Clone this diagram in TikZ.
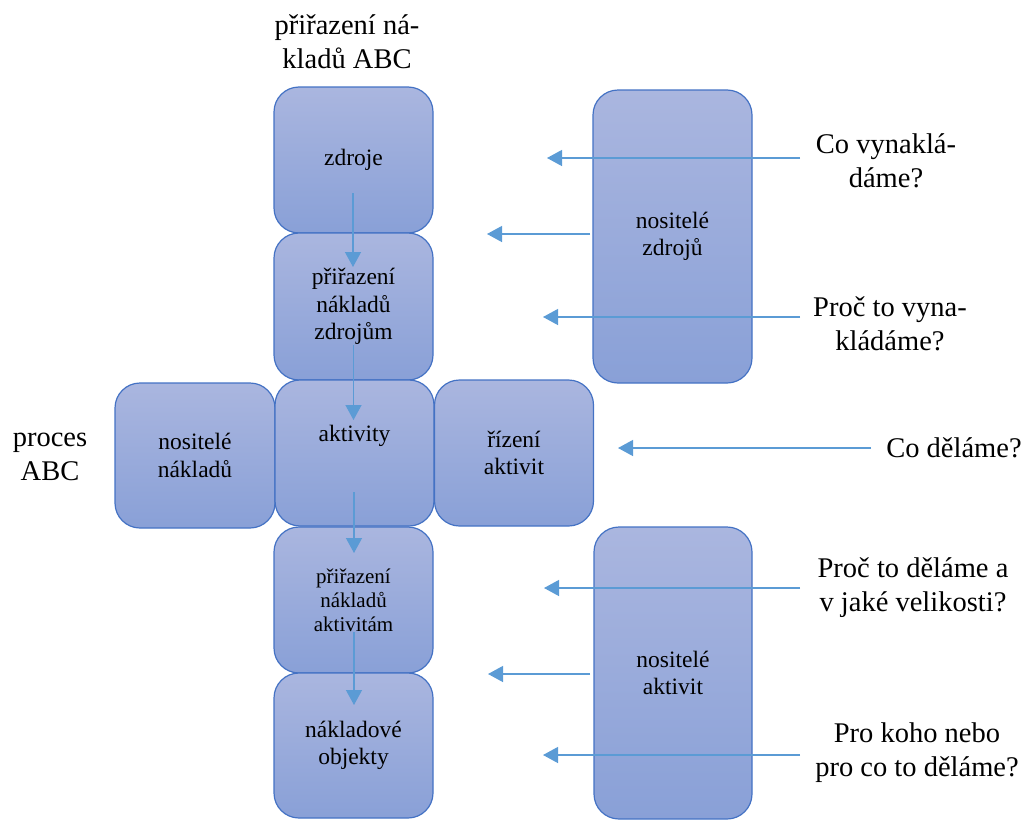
\documentclass[tikz,border=0pt]{standalone}
\usepackage{fontspec}
\setmainfont{Liberation Serif}
\usetikzlibrary{arrows.meta}
\definecolor{boxtop}{RGB}{170,182,223}
\definecolor{boxbot}{RGB}{137,160,215}
\definecolor{boxline}{RGB}{68,114,196}
\definecolor{arr}{RGB}{91,155,213}
\tikzset{
  box/.style={draw=boxline, line width=1.2pt, rounded corners=25pt,
    top color=boxtop, bottom color=boxbot, align=center, inner sep=0pt,
    text=black, font=\fontsize{23.5}{27.5}\selectfont},
  smallbox/.style={box, font=\fontsize{21}{24}\selectfont},
  boxtext/.style={font=\fontsize{23.5}{27.5}\selectfont, inner sep=0pt},
  lbl/.style={align=center, inner sep=0pt, font=\fontsize{28.5}{34}\selectfont},
  conn/.style={draw=arr, line width=1.3pt, -{Triangle[length=15pt,width=16pt]}},
}
\begin{document}
\begin{tikzpicture}[x=1pt,y=-1pt]
\useasboundingbox (0,0) rectangle (1035,819);

% boxes
\node[box, minimum width=159pt, minimum height=146pt] (zdroje) at (353.5,160) {zdroje};
\node[box, minimum width=159pt, minimum height=147pt] (pnz) at (353.5,306.5) {přiřazení\\nákladů\\zdrojům};
\node[box, minimum width=160pt, minimum height=145pt] (nn) at (195,455.5) {nositelé\\nákladů};
\node[box, minimum width=159pt, minimum height=146pt] (akt) at (354.5,453) {};
\node[boxtext] (akttext) at (354.5,436) {aktivity};
\node[box, minimum width=159pt, minimum height=146pt] (riz) at (514,453) {řízení\\aktivit};
\node[smallbox, minimum width=159pt, minimum height=146pt] (pna) at (353.5,600) {přiřazení\\nákladů\\aktivitám};
\node[box, minimum width=159pt, minimum height=145pt] (nobj) at (353.5,745.5) {nákladové\\objekty};
\node[box, minimum width=159pt, minimum height=293pt] (nz) at (672.5,236.5) {nositelé\\zdrojů};
\node[box, minimum width=158pt, minimum height=292pt] (na) at (673,673) {nositelé\\aktivit};

% labels
\node[lbl] (tabc) at (347,42) {přiřazení ná-\\kladů ABC};
\node[lbl] (proc) at (50,457) {proces\\ABC};
\node[lbl] (q1) at (886,161) {Co vynaklá-\\dáme?};
\node[lbl] (q2) at (890,324) {Proč to vyna-\\kládáme?};
\node[lbl] (q3) at (954,448) {Co děláme?};
\node[lbl] (q4) at (913,588) {Proč to děláme a\\v jaké velikosti?};
\node[lbl] (q5) at (917,753) {Pro koho nebo\\pro co to děláme?};

% vertical connectors
\coordinate (v1s) at (353,193);
\coordinate (v1e) at (353,267);
\coordinate (v2s) at (353.5,345);
\coordinate (v2e) at (353.5,420);
\coordinate (v3s) at (354,492);
\coordinate (v3e) at (354,553);
\coordinate (v4s) at (354,632);
\coordinate (v4e) at (354,705);
\draw[conn] (v1s) -- (v1e);
\draw[conn] (v2s) -- (v2e);
\draw[conn] (v3s) -- (v3e);
\draw[conn] (v4s) -- (v4e);

% horizontal connectors
\coordinate (h1s) at (800,158);
\coordinate (h1e) at (547,158);
\coordinate (h2s) at (590,234);
\coordinate (h2e) at (487,234);
\coordinate (h3s) at (800,317);
\coordinate (h3e) at (543,317);
\coordinate (h4s) at (871,448);
\coordinate (h4e) at (618,448);
\coordinate (h5s) at (800,588);
\coordinate (h5e) at (544,588);
\coordinate (h6s) at (590,674);
\coordinate (h6e) at (488,674);
\coordinate (h7s) at (800,755);
\coordinate (h7e) at (543,755);
\draw[conn] (h1s) -- (h1e);
\draw[conn] (h2s) -- (h2e);
\draw[conn] (h3s) -- (h3e);
\draw[conn] (h4s) -- (h4e);
\draw[conn] (h5s) -- (h5e);
\draw[conn] (h6s) -- (h6e);
\draw[conn] (h7s) -- (h7e);
\end{tikzpicture}
\end{document}
